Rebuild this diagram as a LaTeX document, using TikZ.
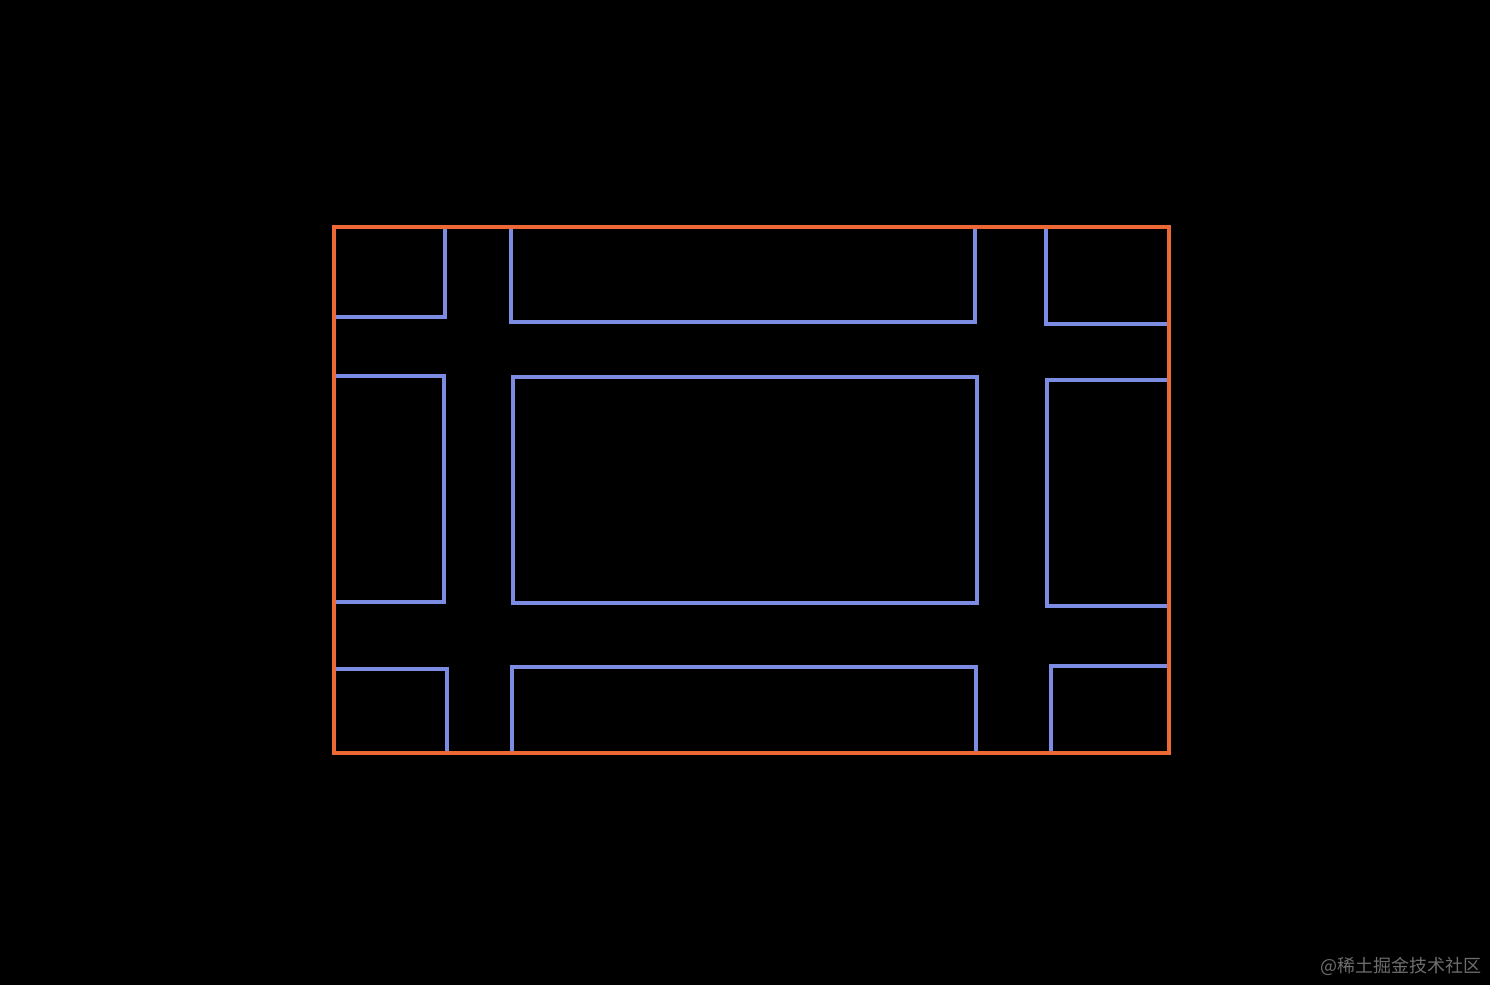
\documentclass[tikz,border=0pt]{standalone}
\usepackage{fontspec}
\newfontfamily\cjk{Noto Sans CJK SC}
\definecolor{outerc}{RGB}{236,104,52}
\definecolor{innerc}{RGB}{124,140,226}
\definecolor{wmark}{RGB}{110,110,110}
\begin{document}
\begin{tikzpicture}[x=1pt,y=-1pt,
  blueline/.style={draw=innerc,line width=3.6pt,line join=miter},
  orangeline/.style={draw=outerc,line width=3.8pt,line join=miter}]
\fill[black] (0,0) rectangle (1490,985);
\useasboundingbox (0,0) rectangle (1490,985);
% inner blue shapes
\draw[blueline] (334,317) -- (445,317) -- (445,227);
\draw[blueline] (511,227) -- (511,322) -- (975,322) -- (975,227);
\draw[blueline] (1046,227) -- (1046,324) -- (1169,324);
\draw[blueline] (334,376) -- (444,376) -- (444,602) -- (334,602);
\draw[blueline] (513,377) rectangle (977,603);
\draw[blueline] (1169,380) -- (1047,380) -- (1047,606) -- (1169,606);
\draw[blueline] (334,669) -- (447,669) -- (447,753);
\draw[blueline] (512,753) -- (512,667) -- (976,667) -- (976,753);
\draw[blueline] (1051,753) -- (1051,666) -- (1169,666);
% outer orange frame
\draw[orangeline] (334,227) rectangle (1169,753);
% watermark
\node[anchor=east,text=wmark,font=\cjk\fontsize{18}{21}\selectfont,inner sep=0pt] (wm) at (1482,966) {@稀土掘金技术社区};
\end{tikzpicture}
\end{document}
